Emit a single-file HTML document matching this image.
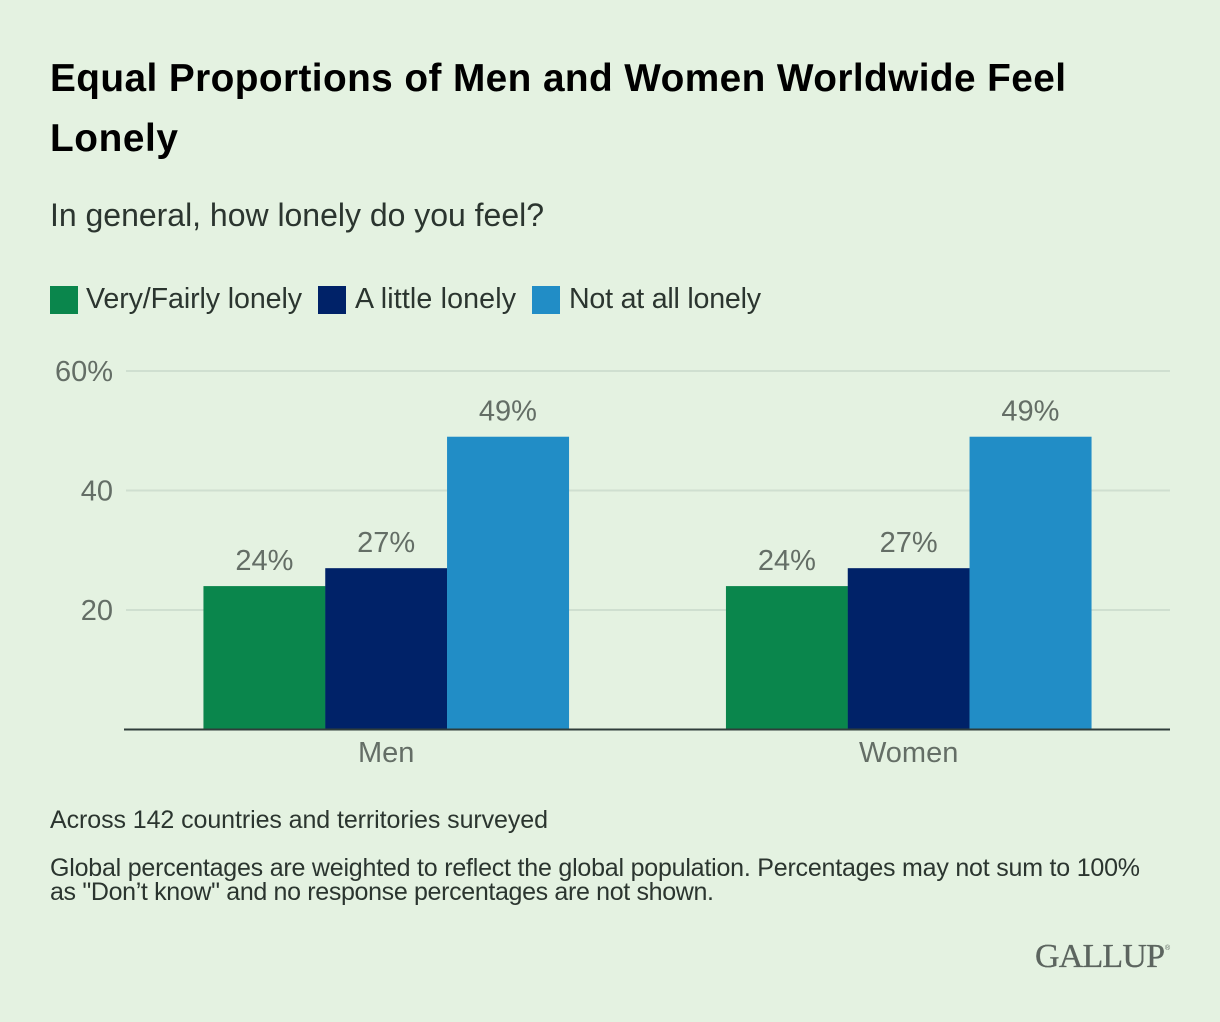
<!DOCTYPE html>
<html lang="en">
<head>
<meta charset="utf-8">
<title>Equal Proportions of Men and Women Worldwide Feel Lonely</title>
<style>
html,body{margin:0;padding:0;background:#e4f2e1;}
#chart{display:block;width:1220px;height:1022px;font-family:"Liberation Sans",sans-serif;}
.title{font-size:38.8px;font-weight:700;fill:#000;}
.sub{font-size:32px;fill:#2b352f;}
.leg{font-size:28.6px;fill:#2b352f;}
.tick{font-size:29px;fill:#646e66;}
.note{font-size:25px;fill:#2b352f;}
</style>
</head>
<body>
<svg id="chart" xmlns="http://www.w3.org/2000/svg" width="1220" height="1022" viewBox="0 0 1220 1022">
  <rect x="0" y="0" width="1220" height="1022" fill="#e4f2e1"/>
  <text class="title" x="50" y="91" textLength="1016" lengthAdjust="spacing">Equal Proportions of Men and Women Worldwide Feel</text>
  <text class="title" x="50" y="151" textLength="128" lengthAdjust="spacing">Lonely</text>
  <text class="sub" x="50" y="226" textLength="494" lengthAdjust="spacing">In general, how lonely do you feel?</text>

  <g>
    <rect x="50" y="286" width="28" height="28" fill="#0a864c"/>
    <text class="leg" x="86" y="308" textLength="216" lengthAdjust="spacing">Very/Fairly lonely</text>
    <rect x="318" y="286" width="28" height="28" fill="#002268"/>
    <text class="leg" x="355" y="308" textLength="161" lengthAdjust="spacing">A little lonely</text>
    <rect x="532" y="286" width="28" height="28" fill="#218dc6"/>
    <text class="leg" x="569" y="308" textLength="192" lengthAdjust="spacing">Not at all lonely</text>
  </g>

  <g id="plot"></g>

  <text class="note" x="50" y="828" textLength="498" lengthAdjust="spacing">Across 142 countries and territories surveyed</text>
  <text class="note" x="50" y="876" textLength="1090" lengthAdjust="spacing">Global percentages are weighted to reflect the global population. Percentages may not sum to 100%</text>
  <text class="note" x="50" y="900" textLength="664" lengthAdjust="spacing">as "Don’t know" and no response percentages are not shown.</text>

  <text x="1035" y="967" font-family="'Liberation Serif',serif" font-size="34" fill="#5c655f" stroke="#5c655f" stroke-width="0.3" textLength="130" lengthAdjust="spacing">GALLUP</text>
  <text x="1165" y="950" font-family="'Liberation Sans',sans-serif" font-size="7" fill="#5c655f">®</text>
</svg>
<script>
var categories = ['Men', 'Women'];
var seriesNames = ['Very/Fairly lonely', 'A little lonely', 'Not at all lonely'];
var veryFairlyValues = [24, 24];
var aLittleValues = [27, 27];
var notAtAllValues = [49, 49];
var tickValues = [20, 40, 60];
var tickLabels = ['20', '40', '60%'];

var seriesValues = [veryFairlyValues, aLittleValues, notAtAllValues];
var seriesColors = ['#0a864c', '#002268', '#218dc6'];
var NS = 'http://www.w3.org/2000/svg';
var plot = document.getElementById('plot');

var plotLeft = 125, plotRight = 1170, baseY = 729.5, unit = 5.975;
function yScale(v) { return baseY - v * unit; }
var bandWidth = (plotRight - plotLeft) / categories.length;
var barWidth = 121.8;
function groupCenter(i) { return plotLeft + bandWidth * (i + 0.5) - 0.1; }
function barX(i, s) { return groupCenter(i) + (s - seriesValues.length / 2) * barWidth; }

function make(tag, attrs, text) {
  var el = document.createElementNS(NS, tag);
  for (var k in attrs) { el.setAttribute(k, attrs[k]); }
  if (text !== undefined) { el.textContent = text; }
  plot.appendChild(el);
  return el;
}

tickValues.forEach(function (v, i) {
  var line = make('line', { x1: plotLeft + 1, x2: plotRight, y1: yScale(v), y2: yScale(v), stroke: '#cfdfd0', 'stroke-width': 2 });
  
  
  var label = make('text', { x: 113, y: yScale(v) + 10, 'text-anchor': 'end', 'class': 'tick' }, tickLabels[i]);
  
  
});

categories.forEach(function (cat, i) {
  seriesValues.forEach(function (vals, s) {
    var x = barX(i, s);
    var bar = make('rect', { x: x, y: yScale(vals[i]), width: barWidth + 0.2, height: baseY - yScale(vals[i]), fill: seriesColors[s] });
    
    
    var val = make('text', { x: x + barWidth / 2, y: yScale(vals[i]) - 16, 'text-anchor': 'middle', 'class': 'tick' }, vals[i] + '%');
    
    
  });
  var catLabel = make('text', { x: groupCenter(i), y: 762, 'text-anchor': 'middle', 'class': 'tick' }, cat);
  
  
});

var axis = make('line', { x1: plotLeft - 1, x2: plotRight, y1: baseY, y2: baseY, stroke: '#2f3d3a', 'stroke-width': 2 });


</script>
</body>
</html>
